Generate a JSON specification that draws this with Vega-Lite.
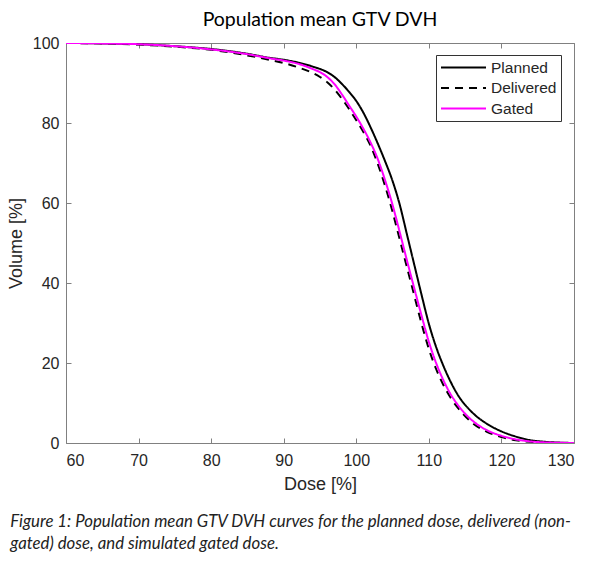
{
  "$schema": "https://vega.github.io/schema/vega-lite/v6.json",
  "background": "white",
  "padding": {"left": 7, "top": 9, "right": 18, "bottom": 10},
  "config": {
    "view": {"stroke": null},
    "font": "Liberation Sans",
    "axis": {
      "domainColor": "#808080",
      "tickColor": "#808080",
      "labelColor": "#262626",
      "labelFontSize": 16,
      "labelFont": "Liberation Sans",
      "titleFont": "Liberation Sans",
      "titleFontSize": 18,
      "titleFontWeight": "normal",
      "titleColor": "#262626",
      "tickSize": -5,
      "grid": false,
      "domainWidth": 1
    },
    "legend": {
      "orient": "none",
      "legendX": 370,
      "legendY": 12,
      "strokeColor": "#333333",
      "fillColor": "white",
      "padding": 4,
      "symbolType": "stroke",
      "symbolSize": 2025,
      "symbolStrokeWidth": 2,
      "clipHeight": 17,
      "rowPadding": 3.5,
      "labelFontSize": 15.5,
      "labelFont": "Liberation Sans",
      "labelColor": "#262626",
      "labelOffset": 4
    }
  },
  "title": {
    "text": ["Figure 1: Population mean GTV DVH curves for the planned dose, delivered (non-", "gated) dose, and simulated gated dose."],
    "orient": "bottom",
    "anchor": "start",
    "frame": "bounds",
    "font": "Lato",
    "fontStyle": "italic",
    "fontWeight": "normal",
    "fontSize": 16.8,
    "lineHeight": 22,
    "offset": 21,
    "dx": 3,
    "color": "#222222"
  },
  "vconcat": [
    {
      "title": {"text": "Population mean GTV DVH", "font": "Lato", "fontSize": 19.5, "fontWeight": "normal", "color": "#000000", "offset": 5},
      "width": 508,
      "height": 400,
      "data": {"values": [
        {"d":60,"v":100,"s":"Planned"},{"d":65,"v":99.9,"s":"Planned"},{"d":70,"v":99.7,"s":"Planned"},{"d":75,"v":99.2,"s":"Planned"},{"d":80,"v":98.5,"s":"Planned"},{"d":85,"v":97.3,"s":"Planned"},{"d":88,"v":96.3,"s":"Planned"},{"d":90,"v":95.8,"s":"Planned"},{"d":92,"v":95.1,"s":"Planned"},{"d":94,"v":94.1,"s":"Planned"},{"d":96,"v":92.7,"s":"Planned"},{"d":97,"v":91.5,"s":"Planned"},{"d":98,"v":89.8,"s":"Planned"},{"d":99,"v":87.8,"s":"Planned"},{"d":100,"v":85.5,"s":"Planned"},{"d":101,"v":82.5,"s":"Planned"},{"d":102,"v":78.8,"s":"Planned"},{"d":103,"v":74.7,"s":"Planned"},{"d":104,"v":70.3,"s":"Planned"},{"d":105,"v":65.5,"s":"Planned"},{"d":106,"v":59.5,"s":"Planned"},{"d":107,"v":52.0,"s":"Planned"},{"d":108,"v":44.5,"s":"Planned"},{"d":109,"v":37.0,"s":"Planned"},{"d":110,"v":29.8,"s":"Planned"},{"d":111,"v":24.0,"s":"Planned"},{"d":112,"v":19.3,"s":"Planned"},{"d":113,"v":15.3,"s":"Planned"},{"d":114,"v":12.0,"s":"Planned"},{"d":116,"v":7.6,"s":"Planned"},{"d":118,"v":4.8,"s":"Planned"},{"d":120,"v":2.9,"s":"Planned"},{"d":122,"v":1.6,"s":"Planned"},{"d":124,"v":0.7,"s":"Planned"},{"d":126,"v":0.3,"s":"Planned"},{"d":128,"v":0.1,"s":"Planned"},{"d":130,"v":0,"s":"Planned"},
        {"d":60,"v":100,"s":"Delivered"},{"d":65,"v":99.9,"s":"Delivered"},{"d":70,"v":99.6,"s":"Delivered"},{"d":75,"v":99.1,"s":"Delivered"},{"d":80,"v":98.3,"s":"Delivered"},{"d":85,"v":96.9,"s":"Delivered"},{"d":88,"v":95.8,"s":"Delivered"},{"d":90,"v":95.0,"s":"Delivered"},{"d":92,"v":93.9,"s":"Delivered"},{"d":94,"v":92.5,"s":"Delivered"},{"d":95,"v":91.5,"s":"Delivered"},{"d":96,"v":90.2,"s":"Delivered"},{"d":97,"v":88.4,"s":"Delivered"},{"d":98,"v":86.1,"s":"Delivered"},{"d":99,"v":83.5,"s":"Delivered"},{"d":100,"v":80.7,"s":"Delivered"},{"d":101,"v":77.7,"s":"Delivered"},{"d":102,"v":74.2,"s":"Delivered"},{"d":103,"v":69.6,"s":"Delivered"},{"d":104,"v":64.1,"s":"Delivered"},{"d":105,"v":57.8,"s":"Delivered"},{"d":106,"v":50.8,"s":"Delivered"},{"d":107,"v":43.8,"s":"Delivered"},{"d":108,"v":36.8,"s":"Delivered"},{"d":109,"v":29.8,"s":"Delivered"},{"d":110,"v":23.5,"s":"Delivered"},{"d":111,"v":18.5,"s":"Delivered"},{"d":112,"v":14.5,"s":"Delivered"},{"d":113,"v":11.3,"s":"Delivered"},{"d":114,"v":8.8,"s":"Delivered"},{"d":116,"v":5.0,"s":"Delivered"},{"d":118,"v":2.8,"s":"Delivered"},{"d":120,"v":1.5,"s":"Delivered"},{"d":122,"v":0.7,"s":"Delivered"},{"d":124,"v":0.3,"s":"Delivered"},{"d":126,"v":0.1,"s":"Delivered"},{"d":128,"v":0.0,"s":"Delivered"},{"d":130,"v":0,"s":"Delivered"},
        {"d":60,"v":100,"s":"Gated"},{"d":65,"v":99.9,"s":"Gated"},{"d":70,"v":99.7,"s":"Gated"},{"d":75,"v":99.2,"s":"Gated"},{"d":80,"v":98.4,"s":"Gated"},{"d":85,"v":97.2,"s":"Gated"},{"d":88,"v":96.2,"s":"Gated"},{"d":90,"v":95.6,"s":"Gated"},{"d":92,"v":94.8,"s":"Gated"},{"d":94,"v":93.5,"s":"Gated"},{"d":95,"v":92.7,"s":"Gated"},{"d":96,"v":91.5,"s":"Gated"},{"d":97,"v":89.7,"s":"Gated"},{"d":98,"v":87.2,"s":"Gated"},{"d":99,"v":84.4,"s":"Gated"},{"d":100,"v":81.6,"s":"Gated"},{"d":101,"v":78.5,"s":"Gated"},{"d":102,"v":75.0,"s":"Gated"},{"d":103,"v":70.8,"s":"Gated"},{"d":104,"v":65.5,"s":"Gated"},{"d":105,"v":59.5,"s":"Gated"},{"d":106,"v":52.6,"s":"Gated"},{"d":107,"v":45.5,"s":"Gated"},{"d":108,"v":38.6,"s":"Gated"},{"d":109,"v":31.8,"s":"Gated"},{"d":110,"v":25.3,"s":"Gated"},{"d":111,"v":20.0,"s":"Gated"},{"d":112,"v":15.7,"s":"Gated"},{"d":113,"v":12.2,"s":"Gated"},{"d":114,"v":9.5,"s":"Gated"},{"d":116,"v":5.6,"s":"Gated"},{"d":118,"v":3.2,"s":"Gated"},{"d":120,"v":1.8,"s":"Gated"},{"d":122,"v":0.9,"s":"Gated"},{"d":124,"v":0.4,"s":"Gated"},{"d":126,"v":0.15,"s":"Gated"},{"d":128,"v":0.05,"s":"Gated"},{"d":130,"v":0,"s":"Gated"}
      ]},
      "layer": [
        {
          "mark": {"type": "line", "strokeWidth": 2, "clip": true, "interpolate": "monotone"},
          "encoding": {
            "x": {"field": "d", "type": "quantitative", "scale": {"domain": [60, 130], "nice": false, "zero": false},
                  "axis": {"orient": "bottom", "values": [60,70,80,90,100,110,120,130], "title": "Dose [%]", "labelPadding": 14, "titlePadding": 7}},
            "y": {"field": "v", "type": "quantitative", "scale": {"domain": [0, 100], "nice": false},
                  "axis": {"orient": "left", "values": [0,20,40,60,80,100], "title": "Volume [%]", "labelPadding": 12, "titlePadding": 7}},
            "color": {"field": "s", "type": "nominal", "sort": ["Planned", "Delivered", "Gated"],
                      "scale": {"domain": ["Planned", "Delivered", "Gated"], "range": ["#000000", "#000000", "#FF00FF"]},
                      "legend": {"title": null}},
            "strokeDash": {"field": "s", "type": "nominal", "sort": ["Planned", "Delivered", "Gated"],
                      "scale": {"domain": ["Planned", "Delivered", "Gated"], "range": [[1, 0], [8, 6], [1, 0]]},
                      "legend": {"title": null}}
          }
        },
        {
          "mark": {"type": "line", "opacity": 0},
          "encoding": {
            "x": {"field": "d", "type": "quantitative", "axis": {"orient": "top", "values": [60,70,80,90,100,110,120,130], "labels": false, "title": null}},
            "y": {"field": "v", "type": "quantitative", "axis": {"orient": "right", "values": [0,20,40,60,80,100], "labels": false, "title": null}},
            "detail": {"field": "s"}
          }
        }
      ],
      "resolve": {"axis": {"x": "independent", "y": "independent"}}
    }
  ]
}
